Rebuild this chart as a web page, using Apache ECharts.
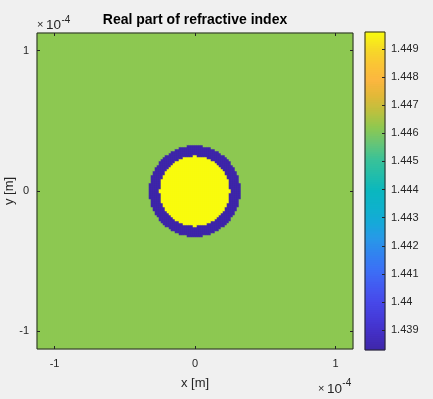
<!DOCTYPE html>
<html>
<head>
<meta charset="utf-8">
<script src="https://cdn.jsdelivr.net/npm/echarts@6/dist/echarts.min.js"></script>
<style>
  html, body { margin: 0; padding: 0; background: #f0f0f0; }
  #main { width: 433px; height: 399px; }
</style>
</head>
<body>
<div id="main"></div>
<script>
// -- data --
// simulation window (m) and number of cells per side
let span = [-1.125e-4, 1.125e-4];
let cellCount = 158;
// core radius and outer radius of the depressed ring (m)
let coreRadius = 25e-6;
let ringRadius = 32.5e-6;
// real part of the index: core / ring / cladding
let nCore = 1.4496;
let nRing = 1.4383;
let nClad = 1.4462;
// ticks
let xTicks = [-1e-4, 0, 1e-4];
let yTicks = [-1e-4, 0, 1e-4];
let cbarRange = [1.4383, 1.4496];
let cbarTicks = [1.439, 1.440, 1.441, 1.442, 1.443, 1.444, 1.445, 1.446, 1.447, 1.448, 1.449];

// parula-like colormap, evenly spaced from cbarRange[0] to cbarRange[1]
let parula = ['#3e26a8', '#432ec3', '#453bd9', '#4748e9', '#435af1', '#3c6ff6', '#3282f0',
  '#2898e8', '#16a9d9', '#0eb2cb', '#0ab7bf', '#22bdaa', '#3ac298', '#66c577', '#8ec850',
  '#bcc03e', '#e2b838', '#fcb740', '#fac535', '#f6db26', '#f9fb0e'];

let font = 'Liberation Sans';
let axisColor = '#262626';

// cell centres
let step = (span[1] - span[0]) / cellCount;
let centres = [];
for (let i = 0; i < cellCount; i++) {
  centres.push(span[0] + step * (i + 0.5));
}

// step-index profile: core, ring, cladding
let cells = [];
centres.forEach(function (x, i) {
  centres.forEach(function (y, j) {
    let r = Math.hypot(x, y);
    let n = r <= coreRadius ? nCore : (r <= ringRadius ? nRing : nClad);
    cells.push([i, j, n]);
  });
});

// colorbar column
let barSteps = 159;
let levels = [];
let barCells = [];
for (let k = 0; k < barSteps; k++) {
  let v = cbarRange[0] + (cbarRange[1] - cbarRange[0]) * (k + 0.5) / barSteps;
  levels.push(v);
  barCells.push([0, k, v]);
}

function tickAxis(extra) {
  let base = {
    type: 'value',
    z: 10,
    splitLine: {show: false},
    axisLine: {show: false, onZero: false},
    axisLabel: {show: false},
    nameMoveOverlap: false
  };
  return Object.assign(base, extra);
}

function ticks(values) {
  return {show: true, inside: true, length: 3, customValues: values, lineStyle: {color: axisColor}};
}

let xyLabel = {color: axisColor, fontSize: 11, fontFamily: font};
let nameStyle = {color: axisColor, fontSize: 13, fontFamily: font};

let option = {
  backgroundColor: '#f0f0f0',
  animation: false,
  grid: [
    {left: 37, top: 33, width: 316, height: 316, show: true, z: 10, outerBoundsMode: 'none',
      containLabel: false, backgroundColor: 'transparent', borderColor: axisColor, borderWidth: 1},
    {left: 365, top: 32, width: 20, height: 318, show: true, z: 10, outerBoundsMode: 'none',
      containLabel: false, backgroundColor: 'transparent', borderColor: axisColor, borderWidth: 1}
  ],
  xAxis: [
    {type: 'category', gridIndex: 0, data: centres, show: false},
    tickAxis({
      gridIndex: 0, position: 'bottom', min: span[0], max: span[1],
      axisTick: ticks(xTicks),
      axisLabel: Object.assign({show: true, margin: 9, customValues: xTicks,
        formatter: function (v) { return String(Math.round(v / 1e-4)); }}, xyLabel),
      name: 'x [m]', nameLocation: 'middle', nameGap: 28, nameTextStyle: nameStyle
    }),
    tickAxis({
      gridIndex: 0, position: 'top', min: span[0], max: span[1],
      axisTick: ticks(xTicks)
    }),
    {type: 'category', gridIndex: 1, data: ['c'], show: false}
  ],
  yAxis: [
    {type: 'category', gridIndex: 0, data: centres, show: false},
    tickAxis({
      gridIndex: 0, position: 'left', min: span[0], max: span[1],
      axisTick: ticks(yTicks),
      axisLabel: Object.assign({show: true, margin: 8, customValues: yTicks,
        formatter: function (v) { return String(Math.round(v / 1e-4)); }}, xyLabel),
      name: 'y [m]', nameLocation: 'middle', nameGap: 21, nameTextStyle: nameStyle
    }),
    tickAxis({
      gridIndex: 0, position: 'right', min: span[0], max: span[1],
      axisTick: ticks(yTicks)
    }),
    {type: 'category', gridIndex: 1, data: levels, show: false},
    tickAxis({
      gridIndex: 1, position: 'right', min: cbarRange[0], max: cbarRange[1],
      axisTick: ticks(cbarTicks),
      axisLabel: Object.assign({show: true, margin: 6, customValues: cbarTicks,
        formatter: function (v) { return String(parseFloat(v.toFixed(4))); }}, xyLabel)
    })
  ],
  visualMap: {
    type: 'continuous',
    show: false,
    min: cbarRange[0],
    max: cbarRange[1],
    seriesIndex: [0, 1],
    inRange: {color: parula}
  },
  graphic: [
    {type: 'text', x: 195, y: 20, style: {text: 'Real part of refractive index', fill: '#000',
      font: 'bold 14px "Liberation Sans"', align: 'center', verticalAlign: 'middle'}},
    {type: 'text', x: 37, y: 25, style: {text: '×', fill: axisColor,
      font: '11px "Liberation Sans"', verticalAlign: 'middle'}},
    {type: 'text', x: 46, y: 25, style: {text: '10', fill: axisColor,
      font: '13.5px "Liberation Sans"', verticalAlign: 'middle'}},
    {type: 'text', x: 61.5, y: 20, style: {text: '-4', fill: axisColor,
      font: '10px "Liberation Sans"', verticalAlign: 'middle'}},
    {type: 'text', x: 318, y: 389, style: {text: '×', fill: axisColor,
      font: '11px "Liberation Sans"', verticalAlign: 'middle'}},
    {type: 'text', x: 327, y: 389, style: {text: '10', fill: axisColor,
      font: '13.5px "Liberation Sans"', verticalAlign: 'middle'}},
    {type: 'text', x: 342.3, y: 383, style: {text: '-4', fill: axisColor,
      font: '10px "Liberation Sans"', verticalAlign: 'middle'}}
  ],
  series: [
    {
      type: 'heatmap',
      xAxisIndex: 0,
      yAxisIndex: 0,
      data: cells,
      progressive: 0
    },
    {
      type: 'heatmap',
      xAxisIndex: 3,
      yAxisIndex: 3,
      data: barCells,
      progressive: 0
    }
  ]
};

let myChart = echarts.init(document.getElementById('main'));
myChart.setOption(option);
</script>
</body>
</html>
